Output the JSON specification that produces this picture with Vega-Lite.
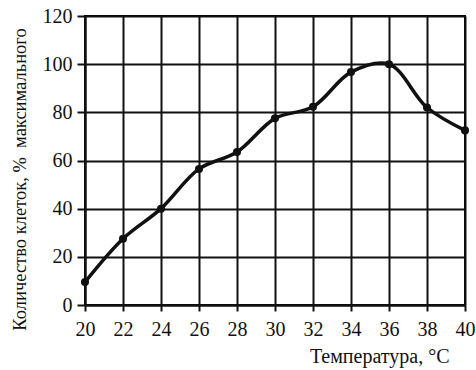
{
  "$schema": "https://vega.github.io/schema/vega-lite/v6.json",
  "width": 380,
  "height": 289,
  "autosize": "none",
  "padding": {"left": 85, "top": 16, "right": 11, "bottom": 65},
  "background": "white",
  "config": {
    "view": {"stroke": "black", "strokeWidth": 2},
    "font": "Liberation Serif",
    "axis": {
      "labelFont": "Liberation Serif",
      "titleFont": "Liberation Serif",
      "labelColor": "#111",
      "titleColor": "#111",
      "titleFontWeight": "normal",
      "gridColor": "#111",
      "gridOpacity": 1,
      "gridWidth": 2,
      "domainColor": "#111",
      "domainWidth": 2,
      "tickColor": "#111",
      "tickWidth": 2
    }
  },
  "data": {
    "values": [
      {"t": 20, "n": 9.5},
      {"t": 22, "n": 27.5},
      {"t": 24, "n": 40},
      {"t": 26, "n": 56.5},
      {"t": 28, "n": 63.5},
      {"t": 30, "n": 77.5},
      {"t": 32, "n": 82.3},
      {"t": 34, "n": 96.7},
      {"t": 36, "n": 100},
      {"t": 38, "n": 82},
      {"t": 40, "n": 72.5}
    ]
  },
  "encoding": {
    "x": {
      "field": "t",
      "type": "quantitative",
      "scale": {"domain": [20, 40], "nice": false, "zero": false},
      "axis": {
        "values": [20, 22, 24, 26, 28, 30, 32, 34, 36, 38, 40],
        "title": "Температура, °C",
        "titleFontSize": 20,
        "titleAnchor": "end",
        "titleAlign": "right",
        "titleX": 364,
        "titleY": 57,
        "titleBaseline": "alphabetic",
        "labelFontSize": 20,
        "tickSize": 6,
        "labelPadding": 8,
        "labelFlush": false
      }
    },
    "y": {
      "field": "n",
      "type": "quantitative",
      "scale": {"domain": [0, 120], "nice": false},
      "axis": {
        "values": [0, 20, 40, 60, 80, 100, 120],
        "title": "Количество клеток, %\u00a0\u00a0максимального",
        "titleFontSize": 18.5,
        "titleAngle": -90,
        "titleAlign": "center",
        "titleX": -60,
        "titleY": 163,
        "titleBaseline": "alphabetic",
        "labelFontSize": 20,
        "tickSize": 8,
        "labelPadding": 5
      }
    }
  },
  "layer": [
    {
      "mark": {"type": "line", "interpolate": "catmull-rom", "color": "#111", "strokeWidth": 3.5}
    },
    {
      "mark": {"type": "circle", "color": "#111", "size": 65, "opacity": 1}
    }
  ]
}
